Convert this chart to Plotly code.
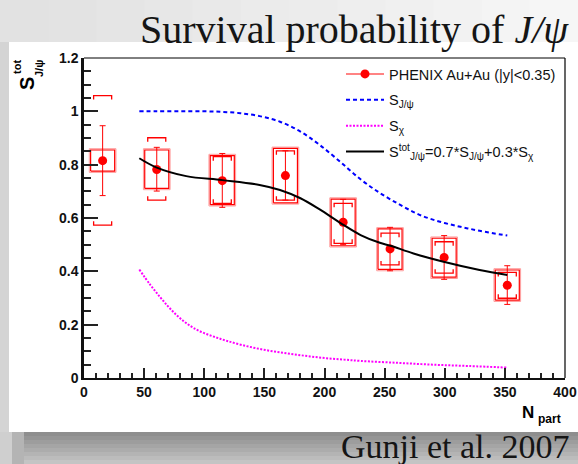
import plotly.graph_objects as go

# ---------------- data ----------------
npart = [15.5, 60.5, 115, 167.5, 215.5, 254.5, 299.5, 352]
surv = [0.815, 0.782, 0.740, 0.759, 0.584, 0.484, 0.452, 0.348]
stat_hi = [0.946, 0.865, 0.842, 0.852, 0.670, 0.565, 0.534, 0.421]
stat_lo = [0.684, 0.701, 0.640, 0.667, 0.500, 0.402, 0.370, 0.276]
box_hi = [0.855, 0.855, 0.834, 0.861, 0.671, 0.559, 0.524, 0.405]
box_lo = [0.776, 0.711, 0.650, 0.657, 0.496, 0.407, 0.378, 0.292]
brk_hi = [1.059, 0.901, 0.830, 0.852, 0.655, 0.543, 0.511, 0.396]
brk_lo = [0.573, 0.667, 0.655, 0.667, 0.505, 0.424, 0.393, 0.299]

sj_npart = [46, 60, 80, 100, 115, 130, 146, 163, 180, 196, 213, 230, 246,
            263, 279, 296, 313, 329, 352]
sj_val = [1.0, 1.0, 1.0, 1.0, 0.998, 0.993, 0.982, 0.961, 0.924, 0.874, 0.811,
          0.745, 0.694, 0.649, 0.612, 0.586, 0.567, 0.552, 0.534]

schi_npart = [46, 55, 63, 70, 77, 84, 91, 100, 110, 119, 132, 146, 160, 174,
              188, 202, 216, 230, 260, 290, 320, 352]
schi_val = [0.407, 0.350, 0.305, 0.268, 0.236, 0.209, 0.188, 0.168, 0.152,
            0.139, 0.123, 0.109, 0.098, 0.089, 0.081, 0.074, 0.069, 0.064,
            0.057, 0.050, 0.045, 0.039]

stot_npart = [46, 60, 85, 115, 146, 163, 180, 196, 213, 230, 246, 255, 274,
              299, 329, 352]
stot_val = [0.824, 0.790, 0.757, 0.742, 0.724, 0.705, 0.674, 0.632, 0.582,
            0.536, 0.507, 0.496, 0.467, 0.436, 0.405, 0.386]

title_text = "Survival probability of <i>J/ψ</i>"
credit_text = "Gunji et al. 2007"
legend_names = ["PHENIX Au+Au (|y|<0.35)",
                "S<sub>J/ψ</sub>",
                "S<sub>χ</sub>",
                "S<sup>tot</sup><sub>J/ψ</sub>=0.7*S<sub>J/ψ</sub>+0.3*S<sub>χ</sub>"]

# ---------------- layout geometry ----------------
W, H = 578, 464
L, R, T, B = 84, 13, 58, 86
PW, PH = W - L - R, H - T - B
XR, YR = [0, 400], [0, 1.2]


def px(x):
    return (x - L) / PW


def py(y):
    return (H - B - y) / PH


ux = (XR[1] - XR[0]) / PW   # data units per pixel
uy = (YR[1] - YR[0]) / PH

fig = go.Figure()

# legend entry for the data
fig.add_trace(go.Scatter(x=[None], y=[None], mode="lines+markers",
                         name=legend_names[0], legendgroup="a",
                         line=dict(color="#ff5a5a", width=1.5),
                         marker=dict(color="red", size=9)))

# systematic boxes (outer light + inner red)
bx_o, by_o, bx_i, by_i = [], [], [], []
hw = 10
for n, lo, hi in zip(npart, box_lo, box_hi):
    d = 1.3
    x0, x1 = n - hw - d * ux, n + hw + d * ux
    y0, y1 = lo - d * uy, hi + d * uy
    bx_o += [x0, x1, x1, x0, x0, None]
    by_o += [y0, y0, y1, y1, y0, None]
    bx_i += [n - hw, n + hw, n + hw, n - hw, n - hw, None]
    by_i += [lo, lo, hi, hi, lo, None]
fig.add_trace(go.Scatter(x=bx_o, y=by_o, mode="lines", showlegend=False,
                         line=dict(color="#ff9a9a", width=1), hoverinfo="skip"))
fig.add_trace(go.Scatter(x=bx_i, y=by_i, mode="lines", showlegend=False,
                         line=dict(color="red", width=1.2), hoverinfo="skip"))

# brackets
kx, ky = [], []
bw = 7.5
tick = 4 * uy
for n, lo, hi in zip(npart, brk_lo, brk_hi):
    kx += [n - bw, n - bw, n + bw, n + bw, None]
    ky += [hi - tick, hi, hi, hi - tick, None]
    kx += [n - bw, n - bw, n + bw, n + bw, None]
    ky += [lo + tick, lo, lo, lo + tick, None]
fig.add_trace(go.Scatter(x=kx, y=ky, mode="lines", showlegend=False,
                         line=dict(color="red", width=1.3), hoverinfo="skip"))

# data points with statistical errors
fig.add_trace(go.Scatter(
    x=npart, y=surv, mode="markers", showlegend=False,
    marker=dict(color="red", size=9),
    error_y=dict(type="data", symmetric=False,
                 array=[h - v for h, v in zip(stat_hi, surv)],
                 arrayminus=[v - l for v, l in zip(surv, stat_lo)],
                 color="red", thickness=1, width=3)))

# model curves
fig.add_trace(go.Scatter(x=sj_npart, y=sj_val, mode="lines", name=legend_names[1],
                         legendgroup="b",
                         line=dict(color="#0000ff", width=2, dash="4px,3px",
                                   shape="spline")))
fig.add_trace(go.Scatter(x=schi_npart, y=schi_val, mode="lines", name=legend_names[2],
                         legendgroup="c",
                         line=dict(color="#ff00ff", width=2, dash="2px,1.5px",
                                   shape="spline")))
fig.add_trace(go.Scatter(x=stot_npart, y=stot_val, mode="lines", name=legend_names[3],
                         legendgroup="d",
                         line=dict(color="black", width=2, shape="spline")))

# ---------------- background decoration ----------------
shapes = []


def rect(x0, y0, x1, y1, color):
    shapes.append(dict(type="rect", xref="paper", yref="paper",
                       x0=px(x0), x1=px(x1), y0=py(y1), y1=py(y0),
                       fillcolor=color, line=dict(width=0), layer="below"))


nb = 12
for i in range(nb):
    c = int(0xe2 + (0xf6 - 0xe2) * i / (nb - 1))
    rect(W * i / nb, 0, W * (i + 1) / nb + 1, H, "#%02x%02x%02x" % (c, c, c))
rect(0, 42, 9, 432, "#d4d4d4")
nb2 = 8
for i in range(nb2):
    c = int(0x8e + (0xc4 - 0x8e) * i / (nb2 - 1))
    rect(0, 432 + 4 * i, W, 432 + 4 * (i + 1) + 0.5, "#%02x%02x%02x" % (c, c, c))
# fade of the shadow at the left corner
rect(0, 432, 12, 464, "#cfcfcf")
rect(12, 432, 24, 464, "#b4b4b4")
rect(9, 42, W, 432, "white")
# thin top and right frame lines
shapes.append(dict(type="line", xref="paper", yref="paper", x0=0, x1=1, y0=1, y1=1,
                   line=dict(color="black", width=1)))
shapes.append(dict(type="line", xref="paper", yref="paper", x0=1, x1=1, y0=0, y1=1,
                   line=dict(color="black", width=1.2)))

annotations = []


def ann(text, x, y, size, family="Liberation Sans", angle=0, xanchor="center",
        color="black"):
    annotations.append(dict(text=text, x=px(x), y=py(y), xref="paper", yref="paper",
                            showarrow=False, textangle=angle, xanchor=xanchor,
                            yanchor="middle",
                            font=dict(family=family, size=size, color=color)))


ann(title_text, 354, 29, 40, family="Liberation Serif", color="#151515")
ann(credit_text, 455, 446, 34, family="Liberation Serif", color="#151515")
ann("<b>S</b>", 27, 84, 20, angle=-90)
ann("<b>tot</b>", 17, 67, 11, angle=-90)
ann("<b>J/ψ</b>", 39, 69, 11, angle=-90)
ann("<b>N</b>", 528, 412, 17)
ann("<b>part</b>", 549, 419, 12)

tickfont = dict(family="Liberation Sans", size=14, color="#111111", weight="bold")
fig.update_layout(
    width=W, height=H,
    margin=dict(l=L, r=R, t=T, b=B, autoexpand=False),
    paper_bgcolor="#e8e8e8", plot_bgcolor="rgba(0,0,0,0)",
    shapes=shapes, annotations=annotations,
    showlegend=True,
    legend=dict(x=px(341), y=py(58), xanchor="left", yanchor="top",
                bgcolor="rgba(0,0,0,0)", borderwidth=0, itemwidth=38,
                tracegroupgap=4,
                font=dict(family="Liberation Sans", size=14.5, color="#111111")),
    xaxis=dict(range=XR, dtick=50, tick0=0, showgrid=False, zeroline=False,
               automargin=False,
               showline=True, linecolor="#111111", linewidth=2,
               ticks="inside", ticklen=10, tickwidth=1.5, tickcolor="#222222",
               minor=dict(dtick=10, ticks="inside", ticklen=5, tickwidth=1.5,
                          tickcolor="#222222", showgrid=False),
               tickfont=tickfont),
    yaxis=dict(range=YR, dtick=0.2, tick0=0, showgrid=False, zeroline=False,
               automargin=False,
               showline=True, linecolor="#111111", linewidth=2.5,
               ticks="inside", ticklen=14, tickwidth=1.5, tickcolor="#222222",
               minor=dict(dtick=0.05, ticks="inside", ticklen=7, tickwidth=1.5,
                          tickcolor="#222222", showgrid=False),
               tickfont=tickfont),
)

fig.write_html("out.html",
               config={"displayModeBar": False},
               post_script="document.body.style.margin='0px';"
                           "document.body.style.overflow='hidden';")
